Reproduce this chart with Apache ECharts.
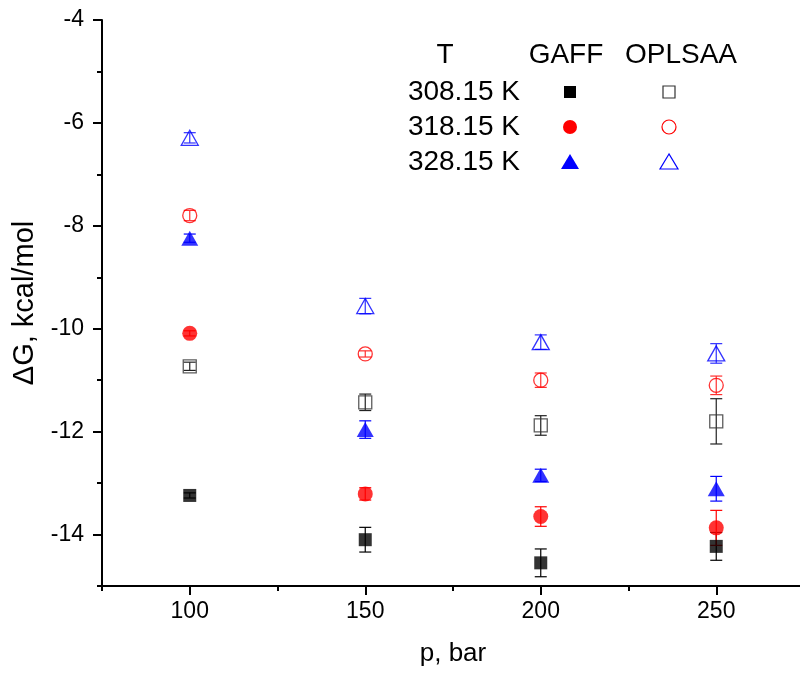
<!DOCTYPE html>
<html>
<head>
<meta charset="utf-8">
<script src="https://cdn.jsdelivr.net/npm/echarts@6/dist/echarts.min.js"></script>
<style>
  html, body { margin: 0; padding: 0; background: #fff; }
  #chart { width: 800px; height: 674px; }
</style>
</head>
<body>
<div id="chart"></div>
<script>
// ---- data ----
const pressures = [100, 150, 200, 250];
const gaff308 = [-13.24, -14.10, -14.55, -14.23];
const gaff308Err = [0.05, 0.24, 0.27, 0.27];
const gaff318 = [-10.09, -13.21, -13.65, -13.87];
const gaff318Err = [0.05, 0.12, 0.19, 0.34];
const gaff328 = [-8.24, -11.96, -12.85, -13.11];
const gaff328Err = [0.08, 0.17, 0.12, 0.24];
const opls308 = [-10.73, -11.43, -11.88, -11.80];
const opls308Err = [0.08, 0.16, 0.19, 0.44];
const opls318 = [-7.80, -10.49, -11.00, -11.10];
const opls318Err = [0.10, 0.06, 0.14, 0.18];
const opls328 = [-6.29, -9.56, -10.26, -10.48];
const opls328Err = [0.10, 0.15, 0.14, 0.19];
const xMajorTicks = [100, 150, 200, 250];
const xMinorTicks = [75, 125, 175, 225, 275];
const yMajorTicks = [-14, -12, -10, -8, -6, -4];
const yMinorTicks = [-15, -13, -11, -9, -7, -5];
const legendRows = ['308.15 K', '318.15 K', '328.15 K'];
const legendHeader = ['T', 'GAFF', 'OPLSAA'];

const FONT = "'Liberation Sans', Arial, sans-serif";

function pts(ys) { return pressures.map((p, i) => [p, ys[i]]); }
function errs(ys, es) { return pressures.map((p, i) => [p, ys[i], es[i]]); }

function errSeries(ys, es, color) {
  return {
    type: 'custom',
    xAxisIndex: 0, yAxisIndex: 0,
    z: 1,
    clip: false,
    silent: true,
    data: errs(ys, es),
    renderItem: function (params, api) {
      const x = api.value(0), y = api.value(1), e = api.value(2);
      const t = api.coord([x, y + e]);
      const b = api.coord([x, y - e]);
      const hw = 6;
      const st = { stroke: color, lineWidth: 1.2, fill: null };
      return {
        type: 'group',
        children: [
          { type: 'line', shape: { x1: t[0], y1: t[1], x2: b[0], y2: b[1] }, style: st },
          { type: 'line', shape: { x1: t[0] - hw, y1: t[1], x2: t[0] + hw, y2: t[1] }, style: st },
          { type: 'line', shape: { x1: b[0] - hw, y1: b[1], x2: b[0] + hw, y2: b[1] }, style: st }
        ]
      };
    }
  };
}

function scatter(name, ys, symbol, size, filled, color) {
  return {
    name: name,
    type: 'scatter',
    xAxisIndex: 0, yAxisIndex: 0,
    z: 3,
    symbol: symbol,
    symbolSize: size,
    data: pts(ys),
    itemStyle: filled
      ? { color: color, borderWidth: 0 }
      : { color: 'rgba(0,0,0,0)', borderColor: color, borderWidth: 1.3 }
  };
}

const chart = echarts.init(document.getElementById('chart'), null, { renderer: 'canvas' });

const txt = (t, x, y, align) => ({
  type: 'text', x: x, y: y, z: 10,
  style: { text: t, font: '28px ' + FONT, fill: '#000', textAlign: align, textVerticalAlign: 'middle' }
});

const legendGraphics = [
  txt(legendHeader[0], 445, 55, 'center'),
  txt(legendHeader[1], 566, 55, 'center'),
  txt(legendHeader[2], 681, 55, 'center'),
  txt(legendRows[0], 520, 92, 'right'),
  txt(legendRows[1], 520, 127, 'right'),
  txt(legendRows[2], 520, 162, 'right'),
  { type: 'rect', x: 564, y: 86, shape: { width: 12, height: 12 }, style: { fill: '#000' } },
  { type: 'rect', x: 663, y: 86, shape: { width: 12, height: 12 }, style: { fill: 'none', stroke: '#333', lineWidth: 1.2 } },
  { type: 'circle', x: 570, y: 127, shape: { r: 7 }, style: { fill: '#ff0000' } },
  { type: 'circle', x: 669, y: 127, shape: { r: 7 }, style: { fill: 'none', stroke: '#ff0000', lineWidth: 1.2 } },
  { type: 'polygon', shape: { points: [[570, 154], [561, 169], [579, 169]] }, style: { fill: '#0000ff' } },
  { type: 'polygon', shape: { points: [[669, 154], [660, 169], [678, 169]] }, style: { fill: 'none', stroke: '#0000ff', lineWidth: 1.2 } }
];

const option = {
  backgroundColor: '#fff',
  animation: false,
  grid: { left: 102, right: -4, top: 20, bottom: 88, outerBoundsMode: 'none', containLabel: false },
  xAxis: [
    {
      type: 'value', min: 75, max: 275,
      name: 'p, bar', nameLocation: 'middle', nameGap: 55,
      nameTextStyle: { fontSize: 26, fontFamily: FONT, color: '#000' },
      splitLine: { show: false },
      axisLine: { show: true, onZero: false, lineStyle: { color: '#000', width: 2 } },
      axisTick: { show: true, inside: false, length: 9, customValues: xMajorTicks, lineStyle: { color: '#000', width: 2 } },
      axisLabel: { show: true, customValues: xMajorTicks, margin: 14, fontSize: 23, fontFamily: FONT, color: '#000' }
    },
    {
      type: 'value', min: 75, max: 275, position: 'bottom',
      splitLine: { show: false },
      axisLine: { show: false },
      axisTick: { show: true, inside: false, length: 5, customValues: xMinorTicks, lineStyle: { color: '#000', width: 2 } },
      axisLabel: { show: false }
    }
  ],
  yAxis: [
    {
      type: 'value', min: -15, max: -4,
      name: 'ΔG, kcal/mol', nameLocation: 'middle', nameGap: 52, nameRotate: 90,
      nameTextStyle: { fontSize: 29, fontFamily: FONT, color: '#000' },
      splitLine: { show: false },
      axisLine: { show: true, onZero: false, lineStyle: { color: '#000', width: 2 } },
      axisTick: { show: true, inside: false, length: 9, customValues: yMajorTicks, lineStyle: { color: '#000', width: 2 } },
      axisLabel: { show: true, customValues: yMajorTicks, margin: 18, fontSize: 23, fontFamily: FONT, color: '#000' }
    },
    {
      type: 'value', min: -15, max: -4, position: 'left',
      splitLine: { show: false },
      axisLine: { show: false },
      axisTick: { show: true, inside: false, length: 5, customValues: yMinorTicks, lineStyle: { color: '#000', width: 2 } },
      axisLabel: { show: false }
    }
  ],
  series: [
    errSeries(gaff308, gaff308Err, '#000'),
    errSeries(opls308, opls308Err, '#222'),
    errSeries(gaff318, gaff318Err, '#ff0000'),
    errSeries(opls318, opls318Err, '#ff3030'),
    errSeries(gaff328, gaff328Err, '#0000ff'),
    errSeries(opls328, opls328Err, '#3030ff'),
    scatter('GAFF 308.15 K', gaff308, 'rect', 13, true, '#000'),
    scatter('OPLSAA 308.15 K', opls308, 'rect', 13, false, '#333'),
    scatter('GAFF 318.15 K', gaff318, 'circle', 15, true, '#ff0000'),
    scatter('OPLSAA 318.15 K', opls318, 'circle', 14, false, '#ff0000'),
    scatter('GAFF 328.15 K', gaff328, 'triangle', [17, 15], true, '#0000ff'),
    scatter('OPLSAA 328.15 K', opls328, 'triangle', [17, 15], false, '#0000ff')
  ],
  graphic: legendGraphics
};

chart.setOption(option);
</script>
</body>
</html>
